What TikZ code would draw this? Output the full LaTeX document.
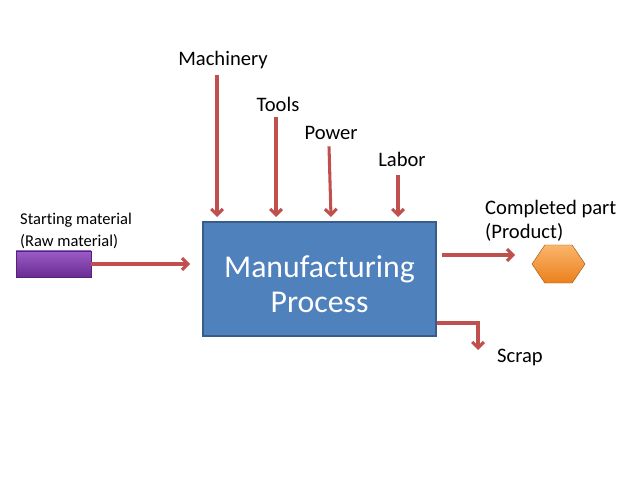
\documentclass[tikz,border=0pt]{standalone}
\usepackage{fontspec}
\setmainfont[Ligatures=NoCommon]{Carlito}
\usetikzlibrary{arrows.meta, shapes.symbols}

\definecolor{procblue}{HTML}{4F81BD}
\definecolor{procedge}{HTML}{385D8A}
\definecolor{flowred}{HTML}{C0504D}
\definecolor{rawtop}{HTML}{9A5CC6}
\definecolor{rawbot}{HTML}{6A2B93}
\definecolor{prodtop}{HTML}{FAB56C}
\definecolor{prodbot}{HTML}{EB801C}

\begin{document}
\begin{tikzpicture}[x=0.85pt, y=-0.85pt,
    flow/.style={draw=flowred, line width=2.6pt, -{Straight Barb[length=5pt,width=10pt]}},
    label/.style={font=\fontsize{17.5}{20}\selectfont, anchor=base, inner sep=0pt},
    small/.style={font=\fontsize{14}{18.7}\selectfont, align=left, anchor=north west, inner sep=0pt},
    ]
\useasboundingbox (0,0) rectangle (638,479);

% the process
\node[draw=procedge, line width=1pt, fill=procblue, minimum width=233*0.85pt, minimum height=114*0.85pt,
      inner sep=0pt] (proc) at (319.5,279) {};
\node[text=white, align=center, font=\fontsize{27}{30}\selectfont] (proctxt) at (319.5,284) {Manufacturing\\Process};

% inputs from above
\node[label] (mach) at (223,66) {Machinery};
\node[label] (tools) at (278,112) {Tools};
\node[label] (power) at (331,140) {Power};
\node[label] (labor) at (402,167) {Labor};

\coordinate (machin) at (217,217);
\coordinate (toolsin) at (276,217);
\coordinate (powerin) at (331,217);
\coordinate (laborin) at (398,217);

\draw[flow] (mach.south -| machin) ++(0,5) -- (machin);
\draw[flow] (tools.south -| toolsin) ++(0,5) -- (toolsin);
\draw[flow] (power.south -| 329,0) ++(0,6) -- (powerin);
\draw[flow] (labor.south -| laborin) ++(0,8) -- (laborin);

% starting material
\node[small] (rawtxt) at (20,213) {Starting material\\(Raw material)};
\node[draw=rawbot!80!black, top color=rawtop, bottom color=rawbot, minimum width=75*0.85pt,
      minimum height=26*0.85pt, inner sep=0pt] (raw) at (53.5,264) {};
\coordinate (rawin) at (190,264);
\draw[flow] (raw.east) -- (rawin);

% completed part
\node[small, font=\fontsize{17.5}{20.4}\selectfont] (prodtxt) at (485,200) {Completed part\\(Product)};
\node[signal, signal to=west and east, signal pointer angle=112, draw=prodbot!70!black,
      top color=prodtop, bottom color=prodbot, minimum width=53*0.85pt, minimum height=38*0.85pt,
      inner sep=0pt] (prod) at (558.5,264) {};
\coordinate (prodin) at (515,255);
\draw[flow] (proc.east |- prodin) ++(5,0) -- (prodin);

% scrap
\node[label] (scrap) at (520,362) {Scrap};
\coordinate (scrapin) at (478,350);
\draw[flow] (proc.east |- 0,323) -| (scrapin);
\end{tikzpicture}
\end{document}
